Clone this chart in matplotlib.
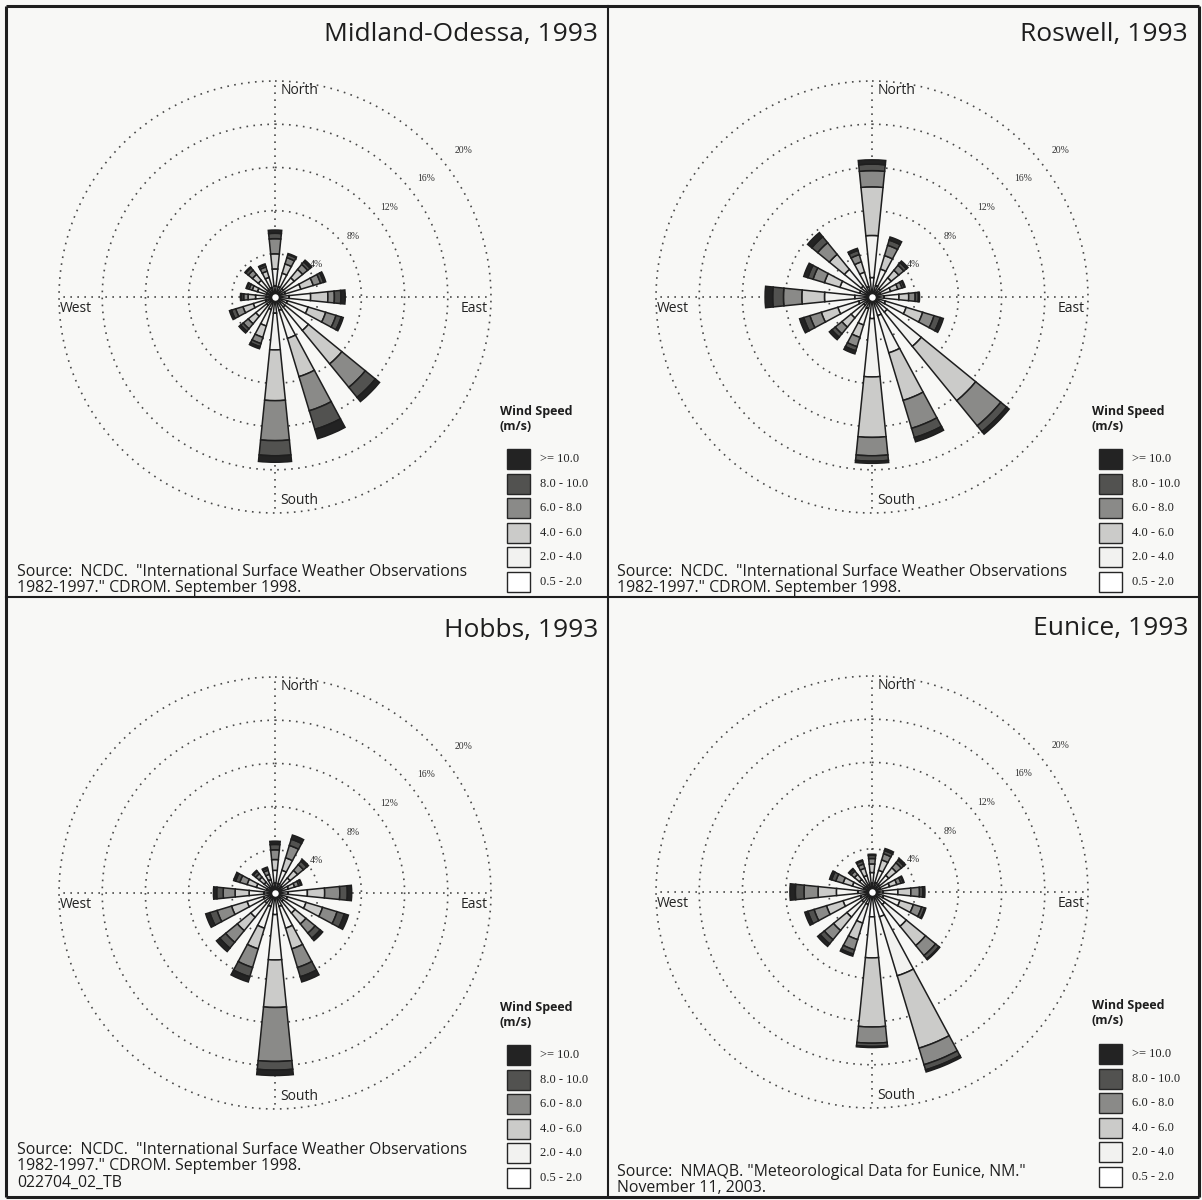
import numpy as np
import matplotlib
matplotlib.use('Agg')
import matplotlib.pyplot as plt
from matplotlib.patches import Rectangle

plt.rcParams['font.family'] = ['Open Sans', 'DejaVu Sans']

# 16 compass directions, clockwise from North
directions = ['N', 'NNE', 'NE', 'ENE', 'E', 'ESE', 'SE', 'SSE',
              'S', 'SSW', 'SW', 'WSW', 'W', 'WNW', 'NW', 'NNW']
speed_labels = ['0.5 - 2.0', '2.0 - 4.0', '4.0 - 6.0', '6.0 - 8.0', '8.0 - 10.0', '>= 10.0']
ring_values = [4, 8, 12, 16, 20]
ring_labels = ['4%', '8%', '12%', '16%', '20%']

# percent of time per direction, one list per speed class (m/s)
midland_05_2 = [1.0, 1.0, 1.0, 1.0, 1.3, 1.2, 1.2, 1.3, 1.5, 1.2, 1.0, 0.9, 0.8, 0.8, 0.9, 0.9]
midland_2_4 = [1.6, 1.3, 1.3, 1.5, 2.0, 2.0, 2.8, 2.7, 3.4, 1.6, 1.3, 1.2, 1.0, 0.9, 1.1, 1.0]
midland_4_6 = [1.4, 0.9, 1.0, 1.2, 1.6, 1.7, 4.0, 3.7, 4.7, 1.1, 0.9, 1.0, 0.7, 0.5, 0.7, 0.6]
midland_6_8 = [1.4, 0.6, 0.6, 0.7, 0.6, 1.0, 2.8, 3.3, 3.7, 0.6, 0.6, 0.7, 0.4, 0.3, 0.5, 0.4]
midland_8_10 = [0.5, 0.3, 0.3, 0.3, 0.6, 0.5, 1.2, 1.8, 1.4, 0.3, 0.3, 0.4, 0.2, 0.2, 0.3, 0.2]
midland_10 = [0.3, 0.1, 0.2, 0.2, 0.4, 0.2, 0.5, 0.9, 0.6, 0.2, 0.2, 0.2, 0.1, 0.1, 0.1, 0.1]

roswell_05_2 = [1.8, 1.1, 1.0, 0.8, 1.1, 1.3, 1.8, 1.8, 2.0, 1.1, 1.0, 1.3, 1.6, 1.2, 1.3, 1.0]
roswell_2_4 = [3.9, 1.6, 1.3, 1.0, 1.4, 2.0, 4.1, 3.6, 5.4, 1.6, 1.5, 2.0, 2.8, 1.9, 2.0, 1.4]
roswell_4_6 = [4.5, 1.3, 0.9, 0.7, 0.9, 1.6, 6.5, 4.6, 5.6, 1.2, 1.1, 1.6, 2.1, 1.5, 1.8, 1.0]
roswell_6_8 = [1.5, 1.0, 0.6, 0.4, 0.6, 1.1, 3.0, 2.7, 1.7, 0.9, 0.8, 1.1, 1.7, 1.1, 1.4, 0.7]
roswell_8_10 = [0.6, 0.5, 0.3, 0.2, 0.3, 0.6, 0.7, 0.9, 0.5, 0.4, 0.4, 0.6, 1.0, 0.5, 0.7, 0.4]
roswell_10 = [0.4, 0.3, 0.2, 0.1, 0.1, 0.3, 0.3, 0.4, 0.2, 0.3, 0.3, 0.4, 0.7, 0.4, 0.5, 0.2]

hobbs_05_2 = [0.9, 0.9, 0.8, 0.6, 1.2, 1.2, 1.0, 1.3, 2.0, 1.3, 1.2, 1.1, 1.0, 0.8, 0.6, 0.6]
hobbs_2_4 = [1.2, 1.3, 1.0, 0.7, 1.8, 1.8, 1.4, 2.1, 4.2, 2.1, 1.7, 1.6, 1.4, 1.0, 0.7, 0.7]
hobbs_4_6 = [1.0, 1.2, 0.9, 0.6, 1.6, 1.6, 1.3, 2.0, 4.4, 2.0, 1.6, 1.5, 1.3, 0.9, 0.6, 0.5]
hobbs_6_8 = [0.9, 1.2, 0.7, 0.4, 1.4, 1.4, 1.1, 1.8, 5.0, 1.8, 1.4, 1.4, 1.1, 0.7, 0.4, 0.4]
hobbs_8_10 = [0.5, 0.6, 0.4, 0.2, 0.7, 0.7, 0.6, 0.9, 0.8, 0.9, 0.7, 0.7, 0.6, 0.4, 0.3, 0.2]
hobbs_10 = [0.3, 0.4, 0.2, 0.1, 0.4, 0.4, 0.3, 0.5, 0.5, 0.5, 0.4, 0.4, 0.3, 0.2, 0.1, 0.1]

eunice_05_2 = [0.8, 0.9, 0.9, 0.8, 1.0, 1.1, 1.5, 2.4, 2.3, 1.2, 1.2, 1.1, 1.3, 0.8, 0.7, 0.7]
eunice_2_4 = [1.0, 1.2, 1.1, 0.9, 1.4, 1.6, 2.6, 5.7, 3.8, 1.8, 1.8, 1.7, 2.0, 1.1, 0.8, 0.9]
eunice_4_6 = [0.8, 1.0, 0.9, 0.7, 1.2, 1.3, 2.3, 7.0, 6.4, 1.6, 1.6, 1.6, 1.7, 0.9, 0.6, 0.7]
eunice_6_8 = [0.5, 0.6, 0.6, 0.4, 0.8, 0.8, 1.2, 1.6, 1.5, 1.0, 1.1, 1.2, 1.3, 0.7, 0.4, 0.4]
eunice_8_10 = [0.3, 0.3, 0.3, 0.2, 0.3, 0.3, 0.4, 0.5, 0.3, 0.4, 0.5, 0.6, 0.8, 0.4, 0.2, 0.3]
eunice_10 = [0.1, 0.2, 0.2, 0.1, 0.2, 0.1, 0.1, 0.2, 0.1, 0.2, 0.3, 0.3, 0.5, 0.2, 0.1, 0.1]

# colours, light to dark, same order as speed_labels
speed_colors = ['#ffffff', '#f2f2f0', '#cbcbc9', '#8a8a88', '#525250', '#232323']

W, H = 1202, 1200
PX_PER_PCT = 10.8
RMAX = 20.6

source_ncdc = ['Source:  NCDC.  "International Surface Weather Observations',
               '1982-1997." CDROM. September 1998.']

# name, rose centre, panel offset, title right edge, source top, classes, source lines
stations = [
    ('Midland-Odessa, 1993', (275, 297), (0, 0), 598, 572,
     [midland_05_2, midland_2_4, midland_4_6, midland_6_8, midland_8_10, midland_10],
     source_ncdc),
    ('Roswell, 1993', (872, 297), (592, 0), 1188, 572,
     [roswell_05_2, roswell_2_4, roswell_4_6, roswell_6_8, roswell_8_10, roswell_10],
     source_ncdc),
    ('Hobbs, 1993', (275, 893), (0, 596), 598, 1150,
     [hobbs_05_2, hobbs_2_4, hobbs_4_6, hobbs_6_8, hobbs_8_10, hobbs_10],
     source_ncdc + ['022704_02_TB']),
    ('Eunice, 1993', (872, 892), (592, 595), 1188, 1172,
     [eunice_05_2, eunice_2_4, eunice_4_6, eunice_6_8, eunice_8_10, eunice_10],
     ['Source:  NMAQB. "Meteorological Data for Eunice, NM."',
      'November 11, 2003.']),
]

fig = plt.figure(figsize=(W / 100, H / 100), dpi=100, facecolor='#f8f8f6')

# background axes in pixel coordinates for frames, titles, legends
bg = fig.add_axes([0, 0, 1, 1])
bg.set_xlim(0, W)
bg.set_ylim(H, 0)
bg.axis('off')

frame_kw = dict(color='#1e1e1e', lw=2.2, solid_capstyle='butt')
bg.plot([6, 1199], [6, 6], **frame_kw)
bg.plot([6, 1199], [1197, 1197], **frame_kw)
bg.plot([6, 6], [6, 1197], **frame_kw)
bg.plot([1199, 1199], [6, 1197], **frame_kw)
bg.plot([608, 608], [6, 1197], color='#1e1e1e', lw=1.5)
bg.plot([6, 1199], [597, 597], color='#1e1e1e', lw=1.5)

theta = np.deg2rad(np.arange(16) * 22.5)
wedge = np.deg2rad(11.5)
circ = np.linspace(0, 2 * np.pi, 500)
dot = (0, (1, 3.2))

for name, (cx, cy), (ox, oy), title_x, src_y, classes, source in stations:
    rad_px = RMAX * PX_PER_PCT
    ax = fig.add_axes([(cx - rad_px) / W, 1 - (cy + rad_px) / H,
                       2 * rad_px / W, 2 * rad_px / H], projection='polar')
    ax.set_theta_zero_location('N')
    ax.set_theta_direction(-1)
    ax.set_ylim(0, RMAX)
    ax.axis('off')

    for r in ring_values:
        ax.plot(circ, np.full_like(circ, r), ls=dot, color='#4a4a4a', lw=1.2, zorder=1)
    for t in [0, np.pi / 2, np.pi, 3 * np.pi / 2]:
        ax.plot([t, t], [0, 20], ls=dot, color='#4a4a4a', lw=1.2, zorder=1)

    bottom = np.zeros(16)
    for vals, col in zip(classes, speed_colors):
        vals = np.array(vals)
        ax.bar(theta, vals, width=wedge, bottom=bottom, color=col,
               edgecolor='#1e1e1e', linewidth=1.1, zorder=3)
        bottom = bottom + vals
    ax.scatter([0], [0], s=38, c='white', edgecolors='#1e1e1e', linewidths=1.5, zorder=6)

    for r, lab in zip(ring_values, ring_labels):
        ax.text(np.deg2rad(52), r * 1.08 + 0.5, lab, fontsize=7, ha='center',
                va='center', color='#333333', family='Liberation Serif')

    lab_kw = dict(textcoords='offset points', fontsize=10, color='#222222')
    ax.annotate('North', xy=(0, 19.1), xytext=(4, 0), ha='left', va='center', **lab_kw)
    ax.annotate('South', xy=(np.pi, 18.8), xytext=(4, 0), ha='left', va='center', **lab_kw)
    ax.annotate('West', xy=(3 * np.pi / 2, 19.9), xytext=(0, -8), ha='left', va='center', **lab_kw)
    ax.annotate('East', xy=(np.pi / 2, 19.7), xytext=(0, -8), ha='right', va='center', **lab_kw)

    # title, top right of the panel
    bg.text(title_x, 34 + oy, name, ha='right', va='center', fontsize=19, color='#1e1e1e')

    # source lines
    src_x = 17 if ox == 0 else 617
    for i, line in enumerate(source):
        bg.text(src_x, src_y + i * 16.5, line, ha='left', va='center', fontsize=11.4,
                color='#1e1e1e')

    # legend
    lx, ly = ox + 500, oy
    bg.text(lx, ly + 411, 'Wind Speed', ha='left', va='center', fontsize=9,
            fontweight='bold', color='#1e1e1e')
    bg.text(lx, ly + 426, '(m/s)', ha='left', va='center', fontsize=9,
            fontweight='bold', color='#1e1e1e')
    for i, (lab, col) in enumerate(zip(speed_labels[::-1], speed_colors[::-1])):
        yc = ly + 459 + i * 24.6
        bg.add_patch(Rectangle((lx + 7, yc - 10), 23, 20, facecolor=col,
                               edgecolor='#262626', lw=1.0))
        bg.text(lx + 40, yc, lab, ha='left', va='center', fontsize=9,
                family='Liberation Serif', color='#222222')

fig.savefig('out.png', dpi=100, facecolor=fig.get_facecolor())
